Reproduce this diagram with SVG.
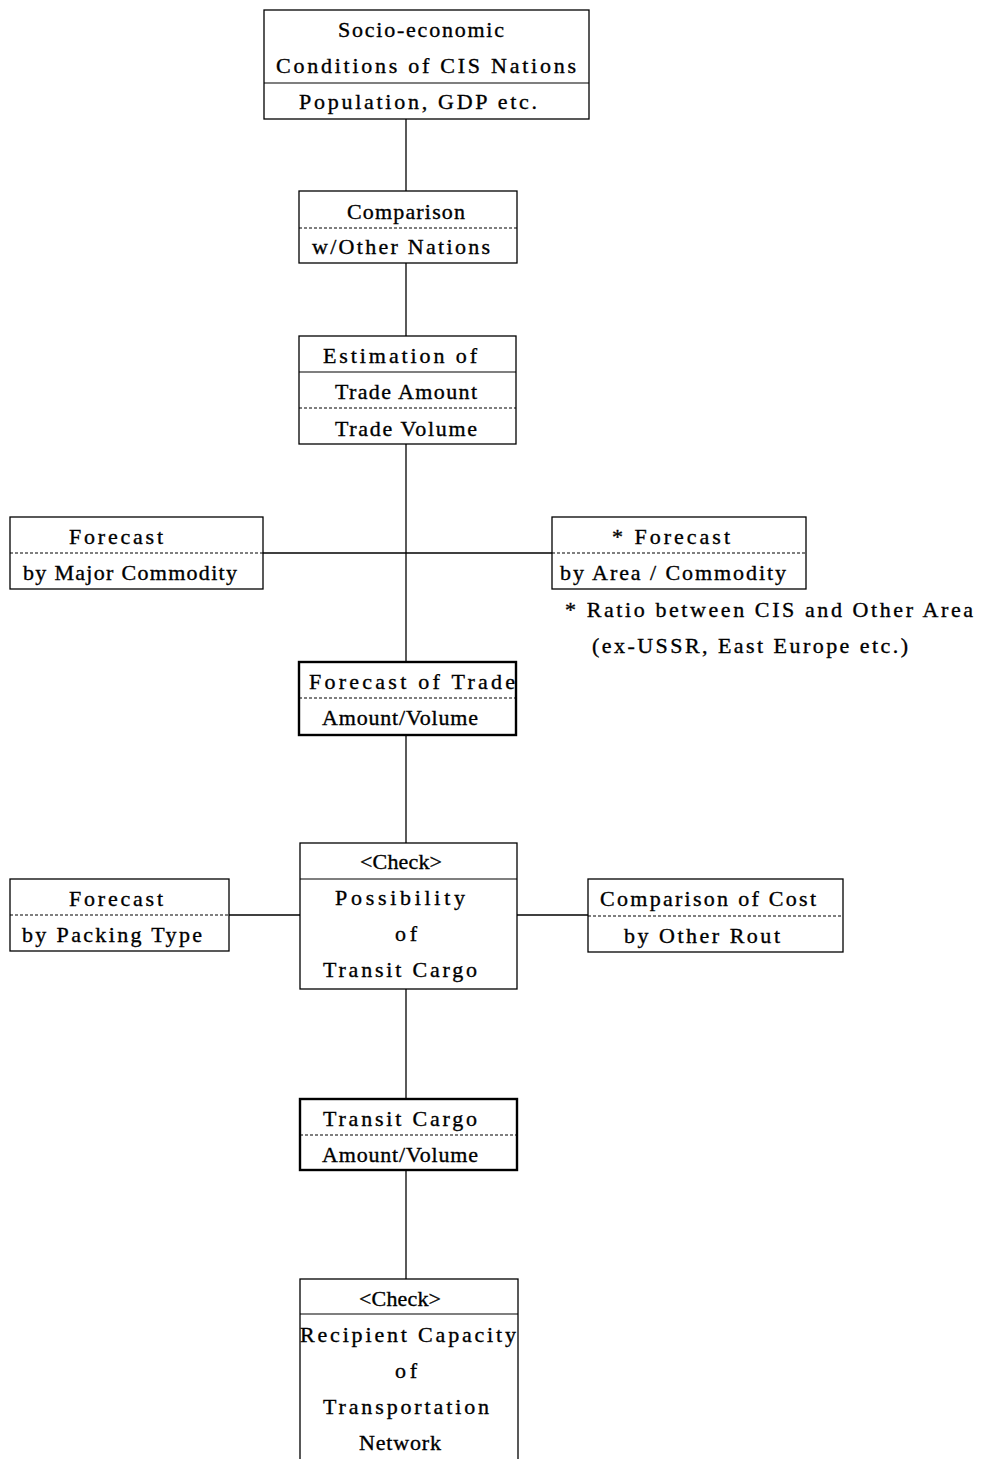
<svg xmlns="http://www.w3.org/2000/svg" width="981" height="1459" viewBox="0 0 981 1459">
  <style>
    .box { fill: #fff; stroke: #000; stroke-width: 1.3; }
    .bold { stroke-width: 2.4; }
    .sep { stroke: #000; stroke-width: 1.2; fill: none; }
    .dash { stroke: #000; stroke-width: 1.2; stroke-dasharray: 3 2; fill: none; }
    .link { stroke: #000; stroke-width: 1.3; fill: none; }
    text { font-family: "Liberation Serif", "DejaVu Serif", serif; font-size: 22px; fill: #000; stroke: #000; stroke-width: 0.35; text-anchor: middle; }
    .left { text-anchor: start; }
  </style>

  <!-- connectors -->
  <g id="connectors">
    <line class="link" x1="406" y1="119" x2="406" y2="191"/>
    <line class="link" x1="406" y1="263" x2="406" y2="336"/>
    <line class="link" x1="406" y1="444" x2="406" y2="662"/>
    <line class="link" x1="263" y1="553" x2="552" y2="553"/>
    <line class="link" x1="406" y1="735" x2="406" y2="843"/>
    <line class="link" x1="229" y1="915" x2="300" y2="915"/>
    <line class="link" x1="517" y1="915" x2="588" y2="915"/>
    <line class="link" x1="406" y1="989" x2="406" y2="1099"/>
    <line class="link" x1="406" y1="1170" x2="406" y2="1279"/>
  </g>

  <!-- socio-economic conditions -->
  <g id="socio">
    <rect class="box" x="264" y="10" width="325" height="109"/>
    <line class="sep" x1="264" y1="83" x2="589" y2="83"/>
    <text x="421" y="37" textLength="166" lengthAdjust="spacing">Socio-economic</text>
    <text x="426" y="73" textLength="300" lengthAdjust="spacing">Conditions of CIS Nations</text>
    <text x="418" y="109" textLength="238" lengthAdjust="spacing">Population, GDP etc.</text>
  </g>

  <!-- comparison with other nations -->
  <g id="comparison">
    <rect class="box" x="299" y="191" width="218" height="72"/>
    <line class="dash" x1="299" y1="228" x2="517" y2="228"/>
    <text x="406" y="219" textLength="118" lengthAdjust="spacing">Comparison</text>
    <text x="401" y="254" textLength="178" lengthAdjust="spacing">w/Other Nations</text>
  </g>

  <!-- estimation of trade -->
  <g id="estimation">
    <rect class="box" x="299" y="336" width="217" height="108"/>
    <line class="sep" x1="299" y1="372" x2="516" y2="372"/>
    <line class="dash" x1="299" y1="408" x2="516" y2="408"/>
    <text x="400" y="363" textLength="154" lengthAdjust="spacing">Estimation of</text>
    <text x="406" y="399" textLength="142" lengthAdjust="spacing">Trade Amount</text>
    <text x="406" y="436" textLength="142" lengthAdjust="spacing">Trade Volume</text>
  </g>

  <!-- forecast by major commodity -->
  <g id="major-commodity">
    <rect class="box" x="10" y="517" width="253" height="72"/>
    <line class="dash" x1="10" y1="553" x2="263" y2="553"/>
    <text x="116" y="544" textLength="94" lengthAdjust="spacing">Forecast</text>
    <text x="130" y="580" textLength="214" lengthAdjust="spacing">by Major Commodity</text>
  </g>

  <!-- forecast by area / commodity -->
  <g id="area-commodity">
    <rect class="box" x="552" y="517" width="254" height="72"/>
    <line class="dash" x1="552" y1="553" x2="806" y2="553"/>
    <text x="671" y="544" textLength="118" lengthAdjust="spacing">* Forecast</text>
    <text x="673" y="580" textLength="226" lengthAdjust="spacing">by Area / Commodity</text>
    <text class="left" x="565" y="617" textLength="408" lengthAdjust="spacing">* Ratio between CIS and Other Area</text>
    <text class="left" x="592" y="653" textLength="316" lengthAdjust="spacing">(ex-USSR, East Europe etc.)</text>
  </g>

  <!-- forecast of trade amount/volume -->
  <g id="forecast-trade">
    <rect class="box bold" x="299" y="662" width="217" height="73"/>
    <line class="dash" x1="299" y1="698" x2="516" y2="698"/>
    <text class="left" x="309" y="689" textLength="206" lengthAdjust="spacing">Forecast of Trade</text>
    <text x="400" y="725" textLength="156" lengthAdjust="spacing">Amount/Volume</text>
  </g>

  <!-- check: possibility of transit cargo -->
  <g id="check-transit">
    <rect class="box" x="300" y="843" width="217" height="146"/>
    <line class="sep" x1="300" y1="879" x2="517" y2="879"/>
    <text x="401" y="869" textLength="82" lengthAdjust="spacing">&lt;Check&gt;</text>
    <text x="400" y="905" textLength="130" lengthAdjust="spacing">Possibility</text>
    <text x="406" y="941" textLength="22" lengthAdjust="spacing">of</text>
    <text x="400" y="977" textLength="154" lengthAdjust="spacing">Transit Cargo</text>
  </g>

  <!-- forecast by packing type -->
  <g id="packing-type">
    <rect class="box" x="10" y="879" width="219" height="72"/>
    <line class="dash" x1="10" y1="915" x2="229" y2="915"/>
    <text x="116" y="906" textLength="94" lengthAdjust="spacing">Forecast</text>
    <text x="112" y="942" textLength="180" lengthAdjust="spacing">by Packing Type</text>
  </g>

  <!-- comparison of cost -->
  <g id="cost">
    <rect class="box" x="588" y="879" width="255" height="73"/>
    <line class="dash" x1="588" y1="916" x2="843" y2="916"/>
    <text x="708" y="906" textLength="216" lengthAdjust="spacing">Comparison of Cost</text>
    <text x="702" y="943" textLength="156" lengthAdjust="spacing">by Other Rout</text>
  </g>

  <!-- transit cargo amount/volume -->
  <g id="transit-amount">
    <rect class="box bold" x="300" y="1099" width="217" height="71"/>
    <line class="dash" x1="300" y1="1135" x2="517" y2="1135"/>
    <text x="400" y="1126" textLength="154" lengthAdjust="spacing">Transit Cargo</text>
    <text x="400" y="1162" textLength="156" lengthAdjust="spacing">Amount/Volume</text>
  </g>

  <!-- check: recipient capacity -->
  <g id="check-capacity">
    <rect class="box" x="300" y="1279" width="218" height="190"/>
    <line class="sep" x1="300" y1="1314" x2="518" y2="1314"/>
    <text x="400" y="1306" textLength="82" lengthAdjust="spacing">&lt;Check&gt;</text>
    <text x="408" y="1342" textLength="216" lengthAdjust="spacing">Recipient Capacity</text>
    <text x="406" y="1378" textLength="22" lengthAdjust="spacing">of</text>
    <text x="406" y="1414" textLength="166" lengthAdjust="spacing">Transportation</text>
    <text x="400" y="1450" textLength="82" lengthAdjust="spacing">Network</text>
  </g>
</svg>
